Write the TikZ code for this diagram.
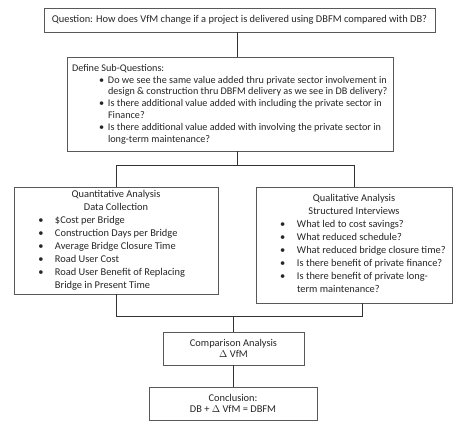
\documentclass[tikz,border=0pt]{standalone}
\usepackage{fontspec}
\setmainfont{Carlito}
\newcommand\bitem[3]{\par\hangindent=#2\hangafter=1\noindent\hspace*{#1}\makebox[\dimexpr#2-#1\relax][l]{\textbullet}#3}
\begin{document}
\begin{tikzpicture}[x=1pt,y=-1pt,
  box/.style={draw=black!65, line width=0.8pt, inner sep=0pt, align=center, text=black!85},
  link/.style={draw=black!80, line width=0.7pt}]
\useasboundingbox[fill=white] (0,0) rectangle (474,442);
\node[box, minimum width=391pt, minimum height=24pt, font=\fontsize{10.4}{12}\selectfont] (q) at (239.5,20)
  {Question: How does VfM change if a project is delivered using DBFM compared with DB?};
\node[box, minimum width=326pt, minimum height=94pt] (s) at (230,104)
  {\parbox{326pt}{\fontsize{10.2}{11.8}\selectfont\raggedright\leftskip=5pt
   Define Sub-Questions:
   \bitem{27pt}{36pt}{Do we see the same value added thru private sector involvement in\newline design \& construction thru DBFM delivery as we see in DB delivery?}
   \bitem{27pt}{36pt}{Is there additional value added with including the private sector in\newline Finance?}
   \bitem{27pt}{36pt}{Is there additional value added with involving the private sector in\newline long-term maintenance?}\par}};
\node[box, minimum width=204pt, minimum height=107pt] (ql) at (116,240.5)
  {\parbox{194pt}{\fontsize{10.4}{13}\selectfont
   {\centering Quantitative Analysis\\ Data Collection\par}\raggedright
   \bitem{19.5pt}{36pt}{\$Cost per Bridge}
   \bitem{19.5pt}{36pt}{Construction Days per Bridge}
   \bitem{19.5pt}{36pt}{Average Bridge Closure Time}
   \bitem{19.5pt}{36pt}{Road User Cost}
   \bitem{19.5pt}{36pt}{Road User Benefit of Replacing\newline Bridge in Present Time}\par}};
\node[box, minimum width=196pt, minimum height=116pt] (qr) at (354,245)
  {\parbox{186pt}{\fontsize{10.4}{13}\selectfont
   {\centering Qualitative Analysis\\ Structured Interviews\par}\raggedright
   \bitem{19pt}{36pt}{What led to cost savings?}
   \bitem{19pt}{36pt}{What reduced schedule?}
   \bitem{19pt}{36pt}{What reduced bridge closure time?}
   \bitem{19pt}{36pt}{Is there benefit of private finance?}
   \bitem{19pt}{36pt}{Is there benefit of private long-\newline term maintenance?}\par\vspace*{4pt}}};
\node[box, minimum width=141pt, minimum height=33pt, font=\fontsize{10.4}{11.5}\selectfont] (c) at (233.5,348.5)
  {Comparison Analysis\\ $\Delta$ VfM};
\node[box, minimum width=168pt, minimum height=33pt, font=\fontsize{10.4}{11.5}\selectfont] (k) at (233,403.5)
  {Conclusion:\\ DB + $\Delta$ VfM = DBFM};
\coordinate (ja) at (237,165);
\coordinate (jb) at (234,316);
\coordinate (br) at (362,316);
\draw[link] (q.south -| ja) -- (ja |- s.north);
\draw[link] (s.south -| ja) -- (ja);
\draw[link] (ql.north) -- (ql.north |- ja) -- (qr.north |- ja) -- (qr.north);
\draw[link] (ql.south) -- (ql.south |- jb) -- (br) -- (br |- qr.south);
\draw[link] (c.north |- jb) -- (c.north);
\draw[link] (c.south) -- (c.south |- k.north);
\end{tikzpicture}
\end{document}
